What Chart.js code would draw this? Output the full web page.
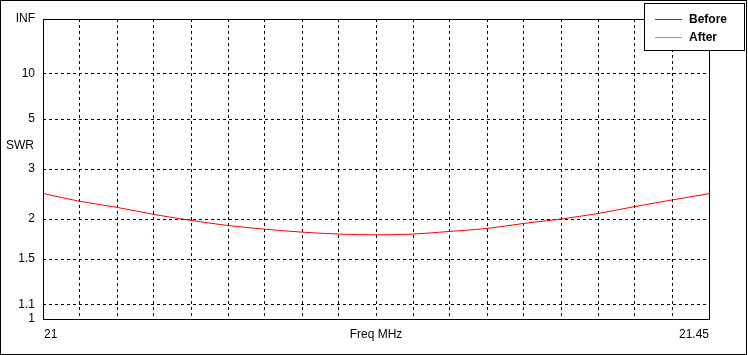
<!DOCTYPE html>
<html>
<head>
<meta charset="utf-8">
<script src="https://cdn.jsdelivr.net/npm/chart.js@4/dist/chart.umd.min.js"></script>
<style>
  body { margin: 0; background: #fff; }
  canvas { display: block; }
</style>
</head>
<body>
<canvas id="swrChart" width="748" height="355"></canvas>
<script>
// frequency points, MHz
const freqs = [21, 21.025, 21.05, 21.075, 21.1, 21.125, 21.15, 21.175, 21.2, 21.225,
               21.25, 21.275, 21.3, 21.325, 21.35, 21.375, 21.4, 21.425, 21.45];
// SWR
const swrBefore = [2.44, 2.29, 2.185, 2.07, 1.98, 1.905, 1.855, 1.815, 1.79, 1.78,
                   1.79, 1.825, 1.865, 1.935, 2.0, 2.085, 2.2, 2.315, 2.435];
const swrAfter = [];
// y axis tick labels (SWR values)
const swrTicks = [1, 1.1, 1.5, 2, 3, 5, 10, Infinity];
const swrTickLabels = ['1', '1.1', '1.5', '2', '3', '5', '10', 'INF'];

// the axis is linear in reflection coefficient
function rho(s) {
  if (s === Infinity) return 1;
  return (s - 1) / (s + 1);
}

const FONT = 'Arial, "Liberation Sans", sans-serif';

const framePlugin = {
  id: 'frame',
  afterDraw(chart) {
    const ctx = chart.ctx;
    const a = chart.chartArea;
    const xs = chart.scales.x;
    ctx.save();
    ctx.strokeStyle = '#000';
    ctx.lineWidth = 1;
    // outer border
    ctx.strokeRect(0.5, 0.5, 746, 354);
    // plot border
    ctx.strokeRect(Math.round(a.left) + 0.5, Math.round(a.top) + 0.5,
                   Math.round(a.right - a.left), Math.round(a.bottom - a.top));

    ctx.fillStyle = '#000';
    ctx.font = '12px ' + FONT;
    ctx.textBaseline = 'middle';
    ctx.textAlign = 'left';
    ctx.fillText('SWR', 6, 146);
    // x labels
    ctx.fillText(String(freqs[0]), xs.getPixelForValue(freqs[0]) + 1, 335);
    ctx.textAlign = 'center';
    ctx.fillText('Freq MHz', (a.left + a.right) / 2, 335);
    ctx.textAlign = 'right';
    ctx.fillText(String(freqs[freqs.length - 1]), xs.getPixelForValue(freqs[freqs.length - 1]), 335);

    // legend box
    ctx.fillStyle = '#fff';
    ctx.fillRect(644, 3, 101, 48);
    ctx.strokeRect(644.5, 3.5, 100, 47);
    const items = chart.data.datasets;
    ctx.font = 'bold 12px ' + FONT;
    ctx.textAlign = 'left';
    items.forEach((d, i) => {
      const y = 19.5 + i * 18;
      ctx.strokeStyle = d.borderColor;
      ctx.beginPath();
      ctx.moveTo(655, y);
      ctx.lineTo(682, y);
      ctx.stroke();
      ctx.fillStyle = '#000';
      ctx.fillText(d.label, 689, y);
    });
    ctx.restore();
  }
};

new Chart(document.getElementById('swrChart'), {
  type: 'line',
  data: {
    datasets: [{
      label: 'Before',
      data: freqs.map((f, i) => ({ x: f, y: rho(swrBefore[i]) })),
      borderColor: '#ff0000',
      borderWidth: 1,
      pointRadius: 0,
      cubicInterpolationMode: 'monotone'
    }, {
      label: 'After',
      data: swrAfter.map((s, i) => ({ x: freqs[i], y: rho(s) })),
      borderColor: '#00ff00',
      borderWidth: 1,
      pointRadius: 0
    }]
  },
  options: {
    responsive: false,
    animation: false,
    layout: { padding: { left: 0, top: 19, right: 39, bottom: 0 } },
    plugins: { legend: { display: false }, tooltip: { enabled: false } },
    scales: {
      x: {
        type: 'linear',
        min: 21,
        max: 21.45,
        ticks: { display: false, stepSize: 0.025 },
        afterBuildTicks(scale) {
          scale.ticks = freqs.map(f => ({ value: f }));
        },
        afterFit(scale) { scale.height = 36; },
        grid: {
          drawTicks: false,
          color: c => (c.index === 0 || c.index === freqs.length - 1) ? 'rgba(0,0,0,0)' : '#000',
          lineWidth: 1
        },
        border: { display: false, dash: [3, 3] }
      },
      y: {
        type: 'linear',
        min: 0,
        max: 1,
        afterBuildTicks(scale) {
          scale.ticks = swrTicks.map(s => ({ value: rho(s) }));
        },
        afterFit(scale) { scale.width = 43; },
        ticks: {
          padding: 8,
          color: '#000',
          font: { family: FONT, size: 12 },
          callback: (v, i) => swrTickLabels[i]
        },
        grid: {
          drawTicks: false,
          color: c => (c.index === 0 || c.index === swrTicks.length - 1) ? 'rgba(0,0,0,0)' : '#000',
          lineWidth: 1
        },
        border: { display: false, dash: [3, 3] }
      }
    }
  },
  plugins: [framePlugin]
});
</script>
</body>
</html>
